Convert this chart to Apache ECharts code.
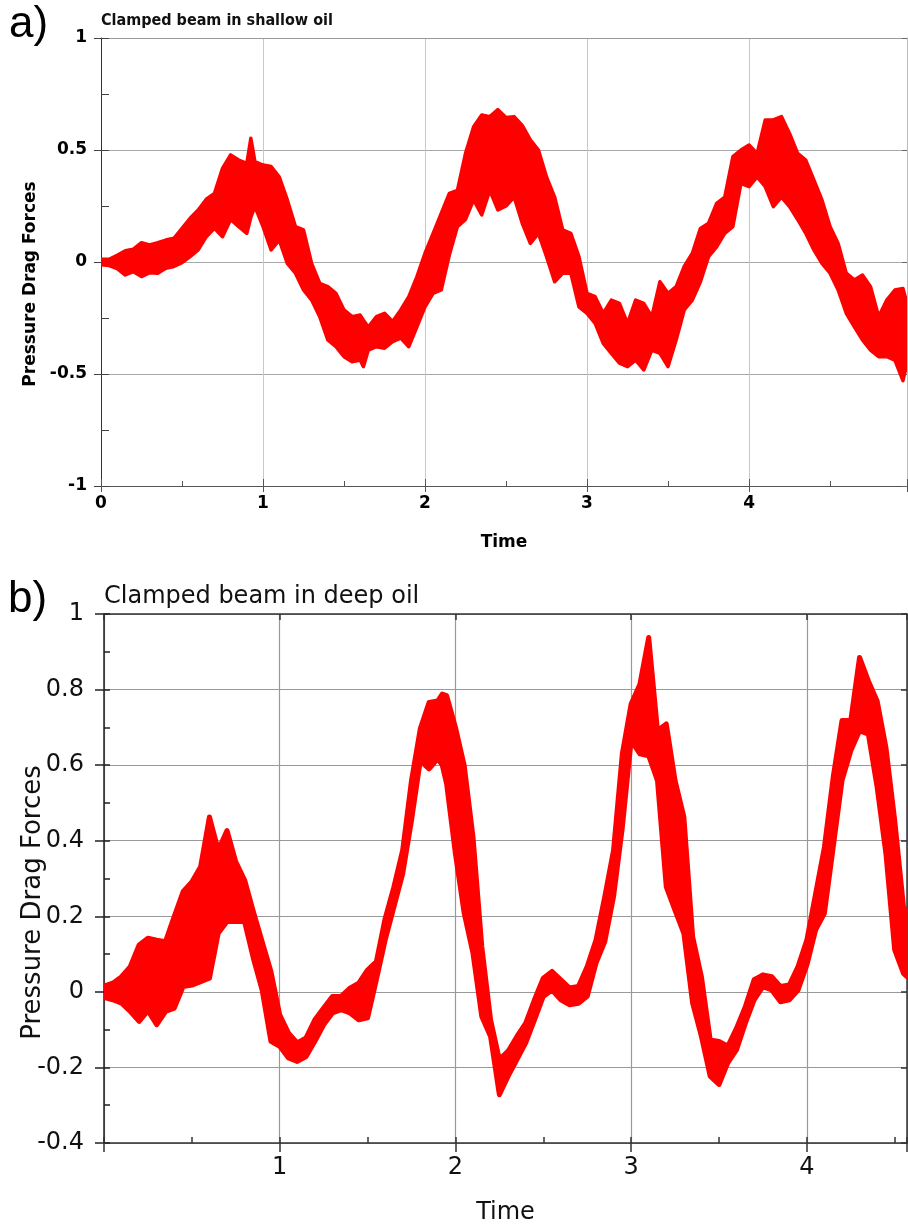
<!DOCTYPE html>
<html>
<head>
<meta charset="utf-8">
<script src="https://cdn.jsdelivr.net/npm/echarts@6/dist/echarts.min.js"></script>
<style>
html,body{margin:0;padding:0;background:#fff;}
#c{width:908px;height:1226px;}
</style>
</head>
<body>
<div id="c"></div>
<script>
// ---- Panel a) Clamped beam in shallow oil : envelope of the noisy signal ----
const shallowTime = [0,0.05,0.1,0.15,0.2,0.25,0.3,0.35,0.4,0.45,0.5,0.55,0.6,0.65,0.7,0.75,0.8,0.85,0.9,0.925,0.95,1.0,1.05,1.1,1.15,1.2,1.25,1.3,1.35,1.4,1.45,1.5,1.55,1.6,1.62,1.65,1.7,1.75,1.8,1.85,1.9,1.95,2.0,2.05,2.1,2.15,2.2,2.25,2.3,2.35,2.4,2.45,2.5,2.55,2.6,2.65,2.7,2.75,2.8,2.85,2.9,2.95,3.0,3.05,3.1,3.15,3.2,3.25,3.3,3.35,3.4,3.45,3.5,3.55,3.6,3.65,3.7,3.75,3.8,3.85,3.9,3.95,4.0,4.05,4.1,4.15,4.2,4.25,4.3,4.35,4.4,4.45,4.5,4.55,4.6,4.65,4.7,4.75,4.8,4.85,4.9,4.95,4.975];
const shallowLow  = [-0.012,-0.016,-0.03,-0.058,-0.043,-0.065,-0.048,-0.05,-0.028,-0.02,-0.003,0.024,0.054,0.113,0.15,0.113,0.19,0.158,0.128,0.2,0.247,0.158,0.054,0.098,-0.006,-0.05,-0.125,-0.17,-0.244,-0.348,-0.378,-0.423,-0.445,-0.438,-0.467,-0.393,-0.378,-0.385,-0.356,-0.34,-0.378,-0.289,-0.2,-0.14,-0.125,0.031,0.158,0.19,0.277,0.21,0.32,0.232,0.25,0.29,0.173,0.083,0.128,0.024,-0.088,-0.05,-0.05,-0.2,-0.229,-0.274,-0.363,-0.408,-0.452,-0.467,-0.438,-0.482,-0.393,-0.408,-0.467,-0.348,-0.214,-0.17,-0.088,0.024,0.068,0.128,0.158,0.351,0.336,0.38,0.336,0.247,0.29,0.247,0.19,0.128,0.054,-0.006,-0.05,-0.125,-0.229,-0.289,-0.348,-0.393,-0.423,-0.423,-0.438,-0.53,-0.452];
const shallowHigh = [0.012,0.012,0.03,0.05,0.057,0.086,0.076,0.086,0.098,0.106,0.15,0.195,0.232,0.28,0.306,0.418,0.478,0.455,0.44,0.552,0.448,0.433,0.426,0.38,0.277,0.158,0.143,-0.006,-0.095,-0.11,-0.14,-0.214,-0.244,-0.237,-0.26,-0.29,-0.244,-0.229,-0.266,-0.214,-0.155,-0.065,0.039,0.128,0.217,0.306,0.32,0.485,0.604,0.656,0.649,0.68,0.645,0.649,0.61,0.545,0.5,0.38,0.29,0.143,0.128,0.024,-0.14,-0.155,-0.229,-0.17,-0.185,-0.274,-0.17,-0.185,-0.244,-0.088,-0.14,-0.11,-0.02,0.039,0.15,0.173,0.262,0.29,0.47,0.5,0.522,0.485,0.634,0.634,0.649,0.574,0.485,0.455,0.366,0.277,0.158,0.083,-0.05,-0.08,-0.058,-0.11,-0.244,-0.17,-0.125,-0.118,-0.185];

// ---- Panel b) Clamped beam in deep oil ----
const deepTime = [0,0.05,0.1,0.15,0.2,0.25,0.3,0.35,0.4,0.45,0.5,0.55,0.6,0.65,0.7,0.75,0.8,0.85,0.9,0.95,1.0,1.05,1.1,1.15,1.2,1.25,1.3,1.35,1.4,1.45,1.5,1.55,1.6,1.65,1.7,1.75,1.8,1.85,1.9,1.925,1.95,2.0,2.05,2.1,2.15,2.2,2.25,2.3,2.35,2.4,2.45,2.5,2.55,2.6,2.65,2.7,2.75,2.8,2.85,2.9,2.95,3.0,3.05,3.1,3.15,3.2,3.25,3.3,3.35,3.4,3.45,3.5,3.55,3.6,3.65,3.7,3.75,3.8,3.85,3.9,3.95,4.0,4.05,4.1,4.15,4.2,4.25,4.3,4.35,4.4,4.45,4.5,4.55,4.57];
const deepLow  = [-0.015,-0.021,-0.03,-0.052,-0.078,-0.05,-0.087,-0.052,-0.043,0.014,0.018,0.027,0.036,0.155,0.186,0.186,0.186,0.089,0.005,-0.131,-0.144,-0.175,-0.184,-0.171,-0.131,-0.087,-0.056,-0.047,-0.056,-0.074,-0.069,0.032,0.137,0.225,0.313,0.454,0.612,0.59,0.617,0.6,0.55,0.366,0.208,0.102,-0.065,-0.118,-0.272,-0.223,-0.179,-0.135,-0.074,-0.012,0.005,-0.021,-0.034,-0.03,-0.012,0.076,0.133,0.252,0.436,0.665,0.63,0.625,0.559,0.278,0.216,0.155,-0.03,-0.118,-0.223,-0.245,-0.188,-0.153,-0.083,-0.021,0.014,0.005,-0.026,-0.021,0.005,0.071,0.164,0.208,0.383,0.559,0.638,0.691,0.682,0.542,0.366,0.111,0.049,0.04];
const deepHigh = [0.015,0.023,0.04,0.067,0.124,0.142,0.137,0.133,0.2,0.265,0.291,0.331,0.463,0.375,0.427,0.344,0.296,0.212,0.133,0.054,-0.061,-0.109,-0.135,-0.122,-0.074,-0.043,-0.012,-0.012,0.01,0.023,0.058,0.08,0.194,0.278,0.375,0.559,0.696,0.766,0.77,0.788,0.784,0.7,0.599,0.41,0.12,-0.074,-0.179,-0.157,-0.118,-0.083,-0.021,0.036,0.054,0.032,0.01,0.014,0.067,0.137,0.252,0.375,0.63,0.762,0.814,0.938,0.691,0.709,0.559,0.463,0.146,0.04,-0.127,-0.131,-0.144,-0.096,-0.039,0.032,0.045,0.04,0.014,0.018,0.067,0.137,0.26,0.383,0.568,0.718,0.718,0.885,0.823,0.77,0.647,0.454,0.225,0.208];

const panelTitles = ['Clamped beam in shallow oil', 'Clamped beam in deep oil'];
const panelLetters = ['a)', 'b)'];
const xName = 'Time';
const yName = 'Pressure Drag Forces';

const chart = echarts.init(document.getElementById('c'), null, {renderer: 'canvas'});
const FONT = "'DejaVu Sans', Verdana, sans-serif";

function bandSeries(T, LO, HI, xi, yi, strokeW) {
  return {
    type: 'custom',
    xAxisIndex: xi, yAxisIndex: yi,
    clip: true,
    silent: true,
    data: T.map((t, i) => [t, LO[i], HI[i]]),
    encode: {x: 0, y: [1, 2]},
    renderItem: function (params, api) {
      if (params.dataIndex !== 0) return null;
      const pts = [];
      for (let i = 0; i < T.length; i++) pts.push(api.coord([T[i], HI[i]]));
      for (let i = T.length - 1; i >= 0; i--) pts.push(api.coord([T[i], LO[i]]));
      return {type: 'polygon', shape: {points: pts},
        style: {fill: '#ff0000', stroke: '#ff0000', lineWidth: strokeW, lineJoin: 'round'}};
    }
  };
}

const intLabel = v => (Math.abs(v - Math.round(v)) < 1e-9 ? String(Math.round(v)) : '');
const intLabelNoZero = v => (Math.abs(v - Math.round(v)) < 1e-9 && Math.round(v) !== 0 ? String(Math.round(v)) : '');

const option = {
  animation: false,
  backgroundColor: '#fff',
  title: [
    {text: panelTitles[0], left: 101, top: 13, padding: 0,
     textStyle: {fontFamily: "'DejaVu Sans Condensed', 'DejaVu Sans', sans-serif", fontWeight: 'bold', fontSize: 16, color: '#111'}},
    {text: panelTitles[1], left: 104, top: 585, padding: 0,
     textStyle: {fontFamily: FONT, fontWeight: 'normal', fontSize: 24, color: '#111'}},
    {text: panelLetters[0], left: 9, top: 3, padding: 0,
     textStyle: {fontFamily: "'Liberation Sans', Arial, sans-serif", fontWeight: 'normal', fontSize: 44, color: '#000'}},
    {text: panelLetters[1], left: 8, top: 578, padding: 0,
     textStyle: {fontFamily: "'Liberation Sans', Arial, sans-serif", fontWeight: 'normal', fontSize: 44, color: '#000'}}
  ],
  grid: [
    {left: 101, right: 1, top: 38, bottom: 740, containLabel: false, outerBoundsMode: 'none'},
    {left: 104, right: 1, top: 614, bottom: 83, containLabel: false, outerBoundsMode: 'none'}
  ],
  xAxis: [
    // panel a main
    {gridIndex: 0, type: 'value', min: 0, max: 4.975, interval: 1, position: 'bottom',
     axisLine: {show: true, onZero: false, lineStyle: {color: '#555', width: 1}},
     axisTick: {show: true, inside: true, length: 7, lineStyle: {color: '#555'}},
     minorTick: {show: true, splitNumber: 2, length: 5, lineStyle: {color: '#555'}},
     axisLabel: {fontFamily: FONT, fontWeight: 'bold', fontSize: 17, color: '#000', margin: 9, formatter: intLabel, showMaxLabel: false},
     splitLine: {show: true, lineStyle: {color: '#c8c8c8', width: 1}},
     name: xName, nameLocation: 'middle', nameGap: 48, nameMoveOverlap: false,
     nameTextStyle: {fontFamily: FONT, fontWeight: 'bold', fontSize: 17, color: '#000'}},
    // panel a outward ticks
    {gridIndex: 0, type: 'value', min: 0, max: 4.975, interval: 1, position: 'bottom',
     axisLine: {show: false, onZero: false}, axisTick: {show: true, inside: false, length: 6, lineStyle: {color: '#555'}},
     axisLabel: {show: false}, splitLine: {show: false}},
    // panel a top edge
    {gridIndex: 0, type: 'value', min: 0, max: 4.975, interval: 1, position: 'top',
     axisLine: {show: true, onZero: false, lineStyle: {color: '#999'}}, axisTick: {show: false},
     axisLabel: {show: false}, splitLine: {show: false}},
    // panel b main
    {gridIndex: 1, type: 'value', min: 0, max: 4.57, interval: 1, position: 'bottom',
     axisLine: {show: true, onZero: false, lineStyle: {color: '#333', width: 1.5}},
     axisTick: {show: true, inside: true, length: 6, lineStyle: {color: '#333', width: 1.5}},
     minorTick: {show: true, splitNumber: 2, length: 6, lineStyle: {color: '#333', width: 1.5}},
     axisLabel: {fontFamily: FONT, fontSize: 24, color: '#111', margin: 13, formatter: intLabelNoZero, showMaxLabel: false},
     splitLine: {show: true, lineStyle: {color: '#999', width: 1.2}},
     name: xName, nameLocation: 'middle', nameGap: 58, nameMoveOverlap: false,
     nameTextStyle: {fontFamily: FONT, fontSize: 24, color: '#111'}},
    // panel b outward ticks
    {gridIndex: 1, type: 'value', min: 0, max: 4.57, interval: 1, position: 'bottom',
     axisLine: {show: false, onZero: false}, axisTick: {show: true, inside: false, length: 9, lineStyle: {color: '#333', width: 1.5}},
     axisLabel: {show: false}, splitLine: {show: false}},
    // panel b top edge
    {gridIndex: 1, type: 'value', min: 0, max: 4.57, interval: 1, position: 'top',
     axisLine: {show: true, onZero: false, lineStyle: {color: '#333', width: 1.5}},
     axisTick: {show: true, inside: true, length: 6, lineStyle: {color: '#333', width: 1.5}},
     axisLabel: {show: false}, splitLine: {show: false}}
  ],
  yAxis: [
    // panel a main
    {gridIndex: 0, type: 'value', min: -1, max: 1, interval: 0.5, position: 'left',
     axisLine: {show: true, onZero: false, lineStyle: {color: '#333', width: 1}},
     axisTick: {show: true, inside: true, length: 8, lineStyle: {color: '#444'}},
     minorTick: {show: true, splitNumber: 2, length: 8, lineStyle: {color: '#444'}},
     axisLabel: {fontFamily: FONT, fontWeight: 'bold', fontSize: 17, color: '#000', margin: 14},
     splitLine: {show: true, lineStyle: {color: '#a8a8a8', width: 1}},
     name: yName, nameLocation: 'middle', nameGap: 62, nameRotate: 90, nameMoveOverlap: false,
     nameTextStyle: {fontFamily: FONT, fontWeight: 'bold', fontSize: 17, color: '#000', padding: [0, 44, 0, 0]}},
    // panel a outward ticks
    {gridIndex: 0, type: 'value', min: -1, max: 1, interval: 0.5, position: 'left',
     axisLine: {show: false, onZero: false}, axisTick: {show: true, inside: false, length: 7, lineStyle: {color: '#444'}},
     axisLabel: {show: false}, splitLine: {show: false}},
    // panel a right edge
    {gridIndex: 0, type: 'value', min: -1, max: 1, interval: 0.5, position: 'right',
     axisLine: {show: true, onZero: false, lineStyle: {color: '#bbb'}},
     axisTick: {show: true, inside: true, length: 5, lineStyle: {color: '#666'}},
     axisLabel: {show: false}, splitLine: {show: false}},
    // panel b main
    {gridIndex: 1, type: 'value', min: -0.4, max: 1, interval: 0.2, position: 'left',
     axisLine: {show: true, onZero: false, lineStyle: {color: '#222', width: 1.5}},
     axisTick: {show: true, inside: true, length: 6, lineStyle: {color: '#222', width: 1.5}},
     minorTick: {show: true, splitNumber: 2, length: 6, lineStyle: {color: '#222', width: 1.5}},
     axisLabel: {fontFamily: FONT, fontSize: 24, color: '#111', margin: 20},
     splitLine: {show: true, lineStyle: {color: '#999', width: 1.2}},
     name: yName, nameLocation: 'middle', nameGap: 58, nameRotate: 90, nameMoveOverlap: false,
     nameTextStyle: {fontFamily: FONT, fontSize: 26, color: '#111', padding: [0, 48, 0, 0]}},
    // panel b outward ticks
    {gridIndex: 1, type: 'value', min: -0.4, max: 1, interval: 0.2, position: 'left',
     axisLine: {show: false, onZero: false}, axisTick: {show: true, inside: false, length: 9, lineStyle: {color: '#222', width: 1.5}},
     axisLabel: {show: false}, splitLine: {show: false}},
    // panel b right edge
    {gridIndex: 1, type: 'value', min: -0.4, max: 1, interval: 0.2, position: 'right',
     axisLine: {show: true, onZero: false, lineStyle: {color: '#333', width: 1.5}},
     axisTick: {show: true, inside: true, length: 6, lineStyle: {color: '#333', width: 1.5}},
     axisLabel: {show: false}, splitLine: {show: false}}
  ],
  series: [
    bandSeries(shallowTime, shallowLow, shallowHigh, 0, 0, 3.5),
    bandSeries(deepTime, deepLow, deepHigh, 3, 3, 5)
  ]
};
chart.setOption(option);
</script>
</body>
</html>
